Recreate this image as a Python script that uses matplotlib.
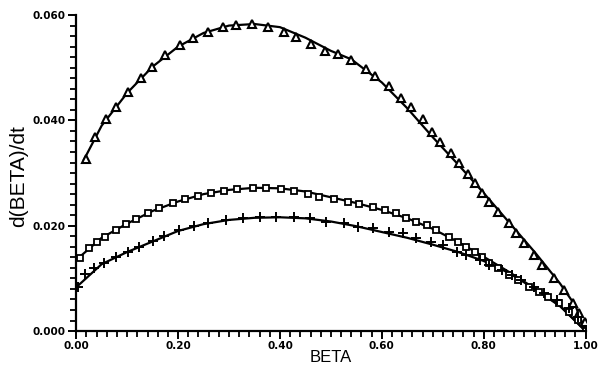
import numpy as np
import matplotlib
matplotlib.use("Agg")
from matplotlib import pyplot as plt
from matplotlib.ticker import MultipleLocator, FormatStrFormatter

plt.rcParams['font.family'] = ['Liberation Sans', 'DejaVu Sans']

# measured points (triangles, squares, crosses)
tri_x = [0.020, 0.037, 0.059, 0.079, 0.102, 0.128, 0.149, 0.175, 0.204, 0.230,
         0.259, 0.289, 0.314, 0.346, 0.377, 0.407, 0.432, 0.460, 0.489, 0.513,
         0.540, 0.568, 0.587, 0.615, 0.637, 0.658, 0.680, 0.699, 0.715, 0.735,
         0.752, 0.770, 0.782, 0.796, 0.811, 0.829, 0.849, 0.864, 0.880, 0.898,
         0.914, 0.937, 0.957, 0.976, 0.988, 0.998]
tri_y = [0.0327, 0.0368, 0.0403, 0.0425, 0.0454, 0.0480, 0.0501, 0.0524, 0.0543, 0.0556,
         0.0568, 0.0577, 0.0581, 0.0583, 0.0577, 0.0568, 0.0558, 0.0545, 0.0532, 0.0526,
         0.0515, 0.0497, 0.0484, 0.0465, 0.0442, 0.0425, 0.0403, 0.0378, 0.0359, 0.0338,
         0.0319, 0.0298, 0.0281, 0.0262, 0.0245, 0.0226, 0.0205, 0.0186, 0.0167, 0.0144,
         0.0125, 0.0101, 0.0078, 0.0053, 0.0034, 0.0017]

sq_x = [0.008, 0.026, 0.041, 0.057, 0.079, 0.098, 0.118, 0.141, 0.163, 0.191,
        0.214, 0.240, 0.265, 0.291, 0.316, 0.348, 0.373, 0.403, 0.428, 0.456,
        0.477, 0.507, 0.534, 0.556, 0.583, 0.607, 0.627, 0.648, 0.668, 0.688,
        0.707, 0.731, 0.750, 0.766, 0.782, 0.796, 0.811, 0.829, 0.849, 0.868,
        0.888, 0.908, 0.927, 0.947, 0.967, 0.986, 1.000]
sq_y = [0.0139, 0.0158, 0.0169, 0.0178, 0.0192, 0.0203, 0.0213, 0.0224, 0.0234, 0.0243,
        0.0251, 0.0256, 0.0262, 0.0266, 0.0270, 0.0272, 0.0272, 0.0270, 0.0266, 0.0260,
        0.0254, 0.0251, 0.0245, 0.0241, 0.0235, 0.0230, 0.0224, 0.0215, 0.0207, 0.0201,
        0.0192, 0.0178, 0.0169, 0.0159, 0.0150, 0.0141, 0.0129, 0.0120, 0.0106, 0.0097,
        0.0084, 0.0074, 0.0065, 0.0053, 0.0036, 0.0021, 0.0000]

pl_x = [0.004, 0.018, 0.035, 0.055, 0.079, 0.102, 0.124, 0.151, 0.173, 0.202,
        0.232, 0.259, 0.295, 0.328, 0.361, 0.393, 0.428, 0.458, 0.491, 0.525,
        0.554, 0.583, 0.615, 0.642, 0.668, 0.697, 0.721, 0.747, 0.766, 0.792,
        0.811, 0.835, 0.855, 0.874, 0.898, 0.919, 0.943, 0.967, 0.986, 1.000]
pl_y = [0.0084, 0.0108, 0.0120, 0.0129, 0.0141, 0.0150, 0.0159, 0.0171, 0.0180, 0.0192,
        0.0199, 0.0205, 0.0211, 0.0215, 0.0216, 0.0216, 0.0216, 0.0215, 0.0207, 0.0205,
        0.0197, 0.0196, 0.0188, 0.0186, 0.0177, 0.0169, 0.0163, 0.0150, 0.0144, 0.0135,
        0.0125, 0.0116, 0.0106, 0.0097, 0.0084, 0.0072, 0.0059, 0.0044, 0.0027, 0.0000]

# fitted curves
tri_line_x = [0.015, 0.05, 0.10, 0.15, 0.20, 0.25, 0.30, 0.35, 0.40, 0.45, 0.50,
              0.54, 0.60, 0.65, 0.70, 0.75, 0.80, 0.85, 0.90, 0.95, 0.98, 1.00]
tri_line_y = [0.0325, 0.0390, 0.0452, 0.0502, 0.0540, 0.0566, 0.0580, 0.0583, 0.0577,
              0.0557, 0.0532, 0.0516, 0.0472, 0.0423, 0.0368, 0.0316, 0.0262, 0.0206,
              0.0150, 0.0090, 0.0048, 0.0000]

sq_line_x = [0.0, 0.05, 0.10, 0.15, 0.20, 0.25, 0.30, 0.35, 0.40, 0.45, 0.50,
             0.55, 0.60, 0.65, 0.70, 0.75, 0.80, 0.85, 0.90, 0.95, 1.00]
sq_line_y = [0.0135, 0.0177, 0.0204, 0.0228, 0.0246, 0.0260, 0.0268, 0.0272, 0.0271,
             0.0265, 0.0254, 0.0243, 0.0230, 0.0214, 0.0194, 0.0169, 0.0141, 0.0112,
             0.0081, 0.0048, 0.0000]

pl_line_x = [0.0, 0.05, 0.10, 0.15, 0.20, 0.25, 0.30, 0.35, 0.40, 0.45, 0.50,
             0.55, 0.60, 0.65, 0.70, 0.75, 0.80, 0.85, 0.90, 0.95, 1.00]
pl_line_y = [0.0083, 0.0127, 0.0150, 0.0170, 0.0190, 0.0203, 0.0211, 0.0215, 0.0216,
             0.0214, 0.0208, 0.0199, 0.0188, 0.0177, 0.0164, 0.0150, 0.0133, 0.0110,
             0.0080, 0.0047, 0.0000]

fig = plt.figure(figsize=(6, 3.67), dpi=100)
ax = fig.add_axes([0.127, 0.098, 0.849, 0.861])

ax.plot(tri_line_x, tri_line_y, color='k', lw=1.6)
ax.plot(sq_line_x, sq_line_y, color='k', lw=1.6)
ax.plot(pl_line_x, pl_line_y, color='k', lw=1.6)

ax.plot(tri_x, tri_y, ls='none', marker='^', ms=5.5, mfc='white', mec='k', mew=1.5)
ax.plot(sq_x, sq_y, ls='none', marker='s', ms=4.5, mfc='white', mec='k', mew=1.3)
ax.plot(pl_x, pl_y, ls='none', marker='+', ms=7.5, mec='k', mew=1.4)

ax.set_xlim(0, 1.0)
ax.set_ylim(0, 0.06)
ax.spines['top'].set_visible(False)
ax.spines['right'].set_visible(False)
ax.spines['left'].set_linewidth(1.6)
ax.spines['bottom'].set_linewidth(1.6)

ax.xaxis.set_major_locator(MultipleLocator(0.2))
ax.xaxis.set_minor_locator(MultipleLocator(0.02))
ax.yaxis.set_major_locator(MultipleLocator(0.02))
ax.yaxis.set_minor_locator(MultipleLocator(0.002))
ax.xaxis.set_major_formatter(FormatStrFormatter('%.2f'))
ax.yaxis.set_major_formatter(FormatStrFormatter('%.3f'))
ax.tick_params(which='major', direction='out', length=6, width=1.4, labelsize=7.5, pad=1.5)
ax.tick_params(which='minor', direction='out', length=4, width=1.3)
for lab in ax.get_xticklabels() + ax.get_yticklabels():
    lab.set_fontweight('bold')
    lab.set_family(['DejaVu Sans'])

ax.set_xlabel("BETA", fontsize=12)
ax.set_ylabel("d(BETA)/dt", fontsize=15)
ax.xaxis.set_label_coords(0.5, -0.060)
ax.yaxis.set_label_coords(-0.095, 0.49)

plt.savefig("out.png", dpi=100)
